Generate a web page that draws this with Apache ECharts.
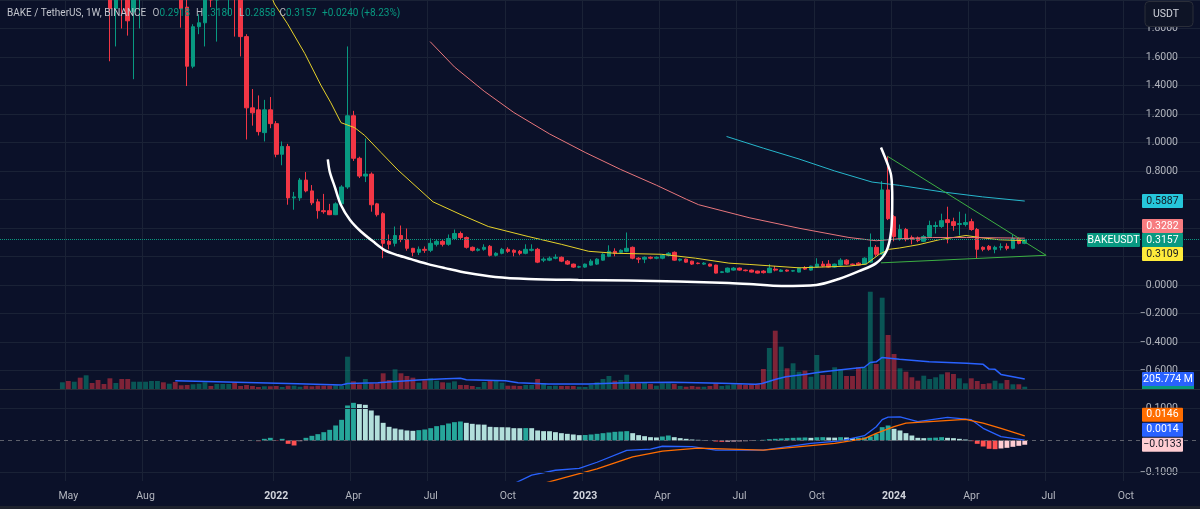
<!DOCTYPE html>
<html>
<head>
<meta charset="utf-8">
<script src="https://cdn.jsdelivr.net/npm/echarts@6/dist/echarts.min.js"></script>
<style>
  html, body { margin: 0; padding: 0; background: #0b1129; }
  #chart { width: 1200px; height: 509px; }
</style>
</head>
<body>
<div id="chart"></div>
<script>
// weekly bars, BAKE / TetherUS, Binance
const weekStart = Date.UTC(2021, 1, 15);
const weekCount = 202;
const weeks = [];
for (let k = 0; k < weekCount; k++) {
  weeks.push(new Date(weekStart + k * 7 * 864e5).toISOString().slice(0, 10));
}

const tickLabels = [
  ['2021-05-03', 'May'], ['2021-08-02', 'Aug'], ['2022-01-03', '2022'], ['2022-04-04', 'Apr'],
  ['2022-07-04', 'Jul'], ['2022-10-03', 'Oct'], ['2023-01-02', '2023'], ['2023-04-03', 'Apr'],
  ['2023-07-03', 'Jul'], ['2023-10-02', 'Oct'], ['2024-01-01', '2024'], ['2024-04-01', 'Apr'],
  ['2024-07-01', 'Jul'], ['2024-09-30', 'Oct']
];

// open, close, low, high  (first bar: week of 2021-04-26)
const firstBar = '2021-04-26';
const ohlc = [
  [3.6, 5.2, 3.4, 6.1], [5.2, 4.6, 4.1, 6.9], [4.6, 5.0, 3.9, 5.6], [5.0, 3.3, 2.3, 5.3],
  [3.3, 3.9, 2.7, 4.3], [3.9, 3.3, 3.0, 4.2], [3.3, 2.7, 2.5, 3.5], [2.7, 2.4, 2.2, 2.9],
  [2.4, 1.94, 1.57, 2.5], [1.94, 2.15, 1.674, 2.3], [2.15, 2.05, 1.80, 2.3], [2.05, 1.854, 1.75, 2.1],
  [1.917, 2.1, 1.444, 2.2], [2.1, 2.3, 1.80, 2.4], [2.3, 2.5, 2.1, 2.7], [2.5, 2.8, 2.3, 3.0],
  [2.8, 3.0, 2.6, 3.3], [3.0, 2.7, 2.5, 3.2], [2.7, 2.9, 2.4, 3.1], [2.9, 2.4, 2.2, 3.0],
  // 2021-09-13
  [2.4, 1.94, 1.806, 2.45], [1.95, 1.535, 1.396, 2.0], [1.535, 1.8125, 1.521, 1.83], [1.8125, 1.84, 1.76, 1.90],
  [1.84, 2.05, 1.674, 2.2], [2.1, 2.0, 1.95, 2.3], [2.0, 2.2, 1.708, 2.4], [2.2, 2.4, 2.0, 2.6],
  [2.3, 2.45, 1.9, 2.6], [2.45, 2.1, 1.743, 2.6], [2.1, 1.743, 1.604, 2.2], [1.743, 1.243, 1.021, 1.76],
  [1.243, 1.208, 1.118, 1.375], [1.229, 1.076, 1.049, 1.33], [1.069, 1.229, 1.007, 1.299], [1.229, 1.132, 1.10, 1.319],
  // 2022-01-03
  [1.132, 0.917, 0.896, 1.15], [0.917, 0.972, 0.840, 1.007], [0.972, 0.611, 0.563, 0.99], [0.611, 0.618, 0.528, 0.653],
  [0.611, 0.736, 0.59, 0.75], [0.736, 0.660, 0.65, 0.792], [0.660, 0.576, 0.56, 0.701], [0.583, 0.521, 0.465, 0.604],
  [0.521, 0.514, 0.50, 0.639], [0.521, 0.493, 0.49, 0.569], [0.493, 0.569, 0.49, 0.58], [0.569, 0.6875, 0.55, 0.70],
  [0.6875, 1.1875, 0.674, 1.674], [1.1875, 0.889, 0.87, 1.222], [0.889, 0.764, 0.75, 0.90], [0.764, 0.778, 0.722, 1.028],
  [0.778, 0.5625, 0.514, 0.79], [0.569, 0.493, 0.48, 0.576], [0.5, 0.292, 0.1875, 0.51], [0.306, 0.285, 0.25, 0.354],
  [0.292, 0.347, 0.27, 0.41], [0.347, 0.319, 0.30, 0.417], [0.319, 0.257, 0.24, 0.396], [0.257, 0.229, 0.201, 0.26],
  [0.229, 0.25, 0.21, 0.27], [0.25, 0.243, 0.225, 0.27],
  // 2022-07-04
  [0.243, 0.292, 0.23, 0.326], [0.285, 0.306, 0.27, 0.319], [0.306, 0.285, 0.27, 0.315], [0.285, 0.326, 0.275, 0.354],
  [0.326, 0.361, 0.315, 0.389], [0.361, 0.333, 0.32, 0.375], [0.333, 0.264, 0.255, 0.34], [0.264, 0.243, 0.235, 0.27],
  [0.243, 0.25, 0.235, 0.26], [0.25, 0.264, 0.24, 0.285], [0.271, 0.208, 0.2, 0.28], [0.208, 0.222, 0.2, 0.23],
  [0.222, 0.25, 0.215, 0.26], [0.25, 0.236, 0.225, 0.264], [0.243, 0.229, 0.201, 0.25], [0.236, 0.222, 0.208, 0.245],
  [0.222, 0.25, 0.215, 0.285], [0.243, 0.25, 0.235, 0.285], [0.25, 0.160, 0.153, 0.26], [0.174, 0.181, 0.160, 0.194],
  [0.174, 0.1875, 0.167, 0.2], [0.1875, 0.194, 0.18, 0.215], [0.194, 0.167, 0.16, 0.2], [0.167, 0.146, 0.14, 0.175],
  [0.146, 0.125, 0.12, 0.15], [0.125, 0.128, 0.118, 0.135],
  // 2023-01-02
  [0.125, 0.146, 0.12, 0.15], [0.139, 0.167, 0.135, 0.181], [0.146, 0.181, 0.14, 0.1875], [0.174, 0.215, 0.17, 0.222],
  [0.201, 0.236, 0.195, 0.278], [0.236, 0.222, 0.201, 0.257], [0.229, 0.243, 0.22, 0.25], [0.236, 0.257, 0.23, 0.368],
  [0.264, 0.1875, 0.18, 0.27], [0.1875, 0.181, 0.153, 0.195], [0.181, 0.194, 0.153, 0.2], [0.194, 0.1875, 0.18, 0.2],
  [0.1875, 0.194, 0.18, 0.2], [0.1875, 0.208, 0.18, 0.215], [0.208, 0.222, 0.2, 0.23], [0.229, 0.174, 0.17, 0.235],
  [0.174, 0.181, 0.165, 0.185], [0.181, 0.16, 0.155, 0.185], [0.167, 0.146, 0.14, 0.17], [0.153, 0.15, 0.145, 0.158],
  [0.146, 0.153, 0.14, 0.16], [0.146, 0.132, 0.128, 0.15], [0.139, 0.083, 0.08, 0.142], [0.088, 0.092, 0.083, 0.097],
  [0.09, 0.118, 0.085, 0.122], [0.104, 0.118, 0.1, 0.125], [0.118, 0.104, 0.1, 0.122], [0.104, 0.10, 0.095, 0.108],
  [0.104, 0.09, 0.087, 0.108], [0.097, 0.083, 0.08, 0.1], [0.097, 0.086, 0.08, 0.104], [0.086, 0.118, 0.083, 0.146],
  [0.111, 0.104, 0.095, 0.132], [0.095, 0.104, 0.09, 0.11], [0.104, 0.097, 0.092, 0.108], [0.097, 0.1, 0.092, 0.105],
  [0.09, 0.118, 0.088, 0.12], [0.118, 0.111, 0.105, 0.132], [0.104, 0.132, 0.1, 0.135], [0.125, 0.146, 0.12, 0.1875],
  [0.146, 0.132, 0.125, 0.167], [0.146, 0.125, 0.12, 0.174], [0.125, 0.146, 0.12, 0.15], [0.139, 0.174, 0.135, 0.1875],
  [0.174, 0.146, 0.14, 0.181], [0.146, 0.142, 0.135, 0.15], [0.153, 0.139, 0.135, 0.16], [0.146, 0.1875, 0.14, 0.194],
  [0.16, 0.264, 0.155, 0.361], [0.264, 0.215, 0.2, 0.28], [0.215, 0.667, 0.21, 0.729], [0.667, 0.465, 0.455, 0.903],
  // 2024-01-01
  [0.479, 0.34, 0.306, 0.49], [0.326, 0.389, 0.31, 0.424], [0.389, 0.319, 0.306, 0.40], [0.333, 0.319, 0.285, 0.347],
  [0.33, 0.312, 0.30, 0.34], [0.306, 0.340, 0.30, 0.35], [0.340, 0.417, 0.33, 0.451], [0.41, 0.417, 0.361, 0.444],
  [0.41, 0.451, 0.40, 0.5], [0.458, 0.4375, 0.292, 0.549], [0.444, 0.417, 0.38, 0.472], [0.424, 0.431, 0.347, 0.514],
  [0.424, 0.4375, 0.41, 0.5], [0.444, 0.389, 0.38, 0.465], [0.389, 0.25, 0.1875, 0.40], [0.264, 0.25, 0.236, 0.271],
  [0.271, 0.25, 0.24, 0.28], [0.25, 0.264, 0.222, 0.275], [0.264, 0.268, 0.243, 0.292], [0.271, 0.257, 0.243, 0.292],
  [0.257, 0.326, 0.25, 0.354], [0.326, 0.2917, 0.285, 0.333], [0.2918, 0.3157, 0.2858, 0.3180]
];

// weekly volume, millions of BAKE (same weeks as ohlc)
const volumeM = [
  138, 165, 150, 233, 282, 123, 185, 103, 220, 123,
  206, 206, 150, 150, 150, 165, 165, 138, 109, 144,
  76, 82, 97, 109, 138, 62, 103, 103, 103, 130,
  62, 82, 62, 41, 56, 56, 62, 41, 68, 68,
  47, 68, 56, 68, 68, 68, 76, 62, 665, 158,
  97, 206, 117, 117, 323, 185, 405, 323, 268, 233,
  130, 179, 220, 171, 138, 130, 158, 82, 82, 62,
  41, 144, 171, 171, 130, 68, 68, 62, 82, 82,
  206, 117, 62, 68, 62, 62, 62, 47, 41, 82,
  138, 206, 268, 171, 185, 294, 117, 117, 138, 103,
  68, 117, 117, 103, 62, 47, 62, 47, 47, 62,
  117, 62, 76, 97, 97, 82, 97, 97, 412, 844,
  1200, 871, 426, 529, 356, 377, 253, 700, 288, 288,
  447, 405, 268, 268, 447, 447, 2002, 515, 1879, 1111,
  720, 426, 356, 241, 171, 274, 206, 241, 303, 344,
  309, 220, 117, 220, 165, 103, 117, 171, 117, 185,
  97, 97, 47
];

// MACD histogram (12, 26, 9), first value: week of 2021-12-06
const histStart = '2021-12-06';
const macdHist = [
  0.0006, -0.0021, 0.0052, 0.0083, -0.001, 0.0052, -0.0104, -0.0156, -0.0021, 0.0083,
  0.0146, 0.0198, 0.026, 0.0333, 0.0469, 0.0646, 0.1094, 0.1177, 0.1135, 0.1115,
  0.0938, 0.0781, 0.0552, 0.0427, 0.0375, 0.0344, 0.0313, 0.0302, 0.0323, 0.0344,
  0.0385, 0.0448, 0.0479, 0.0531, 0.0573, 0.0594, 0.0552, 0.0521, 0.05, 0.0495,
  0.0427, 0.0417, 0.0415, 0.0411, 0.0385, 0.0383, 0.0388, 0.0385, 0.0313, 0.0292,
  0.029, 0.026, 0.0229, 0.0208, 0.0188, 0.0167, 0.0172, 0.0188, 0.0208, 0.0229,
  0.025, 0.0271, 0.0281, 0.0292, 0.0229, 0.0167, 0.0135, 0.0104, 0.0094, 0.0125,
  0.0156, 0.0104, 0.0073, 0.0052, 0.0031, 0.0021, 0.001, 0.0003, -0.0031, -0.0042,
  -0.0036, -0.0031, -0.0026, -0.0021, -0.001, 0.0005, 0.0021, 0.0042, 0.0052, 0.0063,
  0.0073, 0.0083, 0.0089, 0.0094, 0.0083, 0.0099, 0.0104, 0.0094, 0.0089, 0.0104,
  0.0094, 0.0073, 0.0083, 0.0094, 0.0125, 0.0208, 0.0417, 0.0469, 0.0365, 0.0313,
  0.0229, 0.0156, 0.0083, 0.0073, 0.0083, 0.0089, 0.0104, 0.0083, 0.0073, 0.0052,
  0.0031, -0.0021, -0.0104, -0.0188, -0.026, -0.0271, -0.025, -0.0229, -0.0198, -0.0167,
  -0.0133
];

// line readings: [week number from 2021-02-15, value]
const maYellow = [[44, 2.15], [45.7, 1.972], [47.9, 1.833], [50.8, 1.625], [53.5, 1.403], [55.2, 1.278],
  [56.9, 1.139], [59.2, 1.104], [60.9, 1.049], [63.6, 0.931], [66.5, 0.806], [72.4, 0.583], [77.1, 0.493],
  [81.7, 0.41], [88.4, 0.34], [94, 0.285], [98.6, 0.236], [103.1, 0.222], [110.9, 0.215], [116.6, 0.1875],
  [122.2, 0.153], [125.6, 0.144], [134, 0.12], [142.4, 0.132], [145.3, 0.146], [147.5, 0.215], [149.2, 0.25],
  [150.9, 0.259], [154.2, 0.283], [157.6, 0.317], [162.1, 0.347], [164.4, 0.333], [167.7, 0.317], [172, 0.3109]];
const maPink = [[71.9, 1.708], [76, 1.53], [81, 1.36], [86, 1.21], [92, 1.06], [98, 0.93], [104, 0.81],
  [110, 0.70], [115.1, 0.60], [117.1, 0.563], [125.6, 0.472], [134, 0.398], [142.4, 0.333], [147, 0.31],
  [150.9, 0.324], [156.5, 0.333], [162.2, 0.333], [172, 0.3282]];
const maCyan = [[121.8, 1.042], [128, 0.96], [134, 0.884], [140, 0.80], [146.3, 0.722], [150.9, 0.699],
  [158.1, 0.653], [164.9, 0.618], [172, 0.5887]];
const volumeMA = [[29, 171], [49.6, 109], [57, 82], [58, 112], [63.1, 130], [69.9, 185], [74.6, 212],
  [77, 220], [78, 190], [84.6, 171], [86.7, 130], [91.8, 103], [98.6, 103], [104.8, 130], [112.6, 138],
  [121, 117], [126.7, 97], [127.8, 113], [130.1, 200], [131.8, 253], [135.2, 303], [137.4, 344], [140.7, 391],
  [145, 447], [146, 545], [147, 560], [148, 650], [150.9, 611], [155.9, 562], [162.2, 529], [165, 508],
  [166, 410], [167, 405], [168, 300], [172, 205.774]];
const macdLine = [[84, -0.16], [86, -0.135], [89, -0.108], [93, -0.093], [97, -0.087], [100, -0.068],
  [105, -0.031], [109, -0.027], [111, -0.018], [116, -0.019], [120, -0.030], [128, -0.030], [136, -0.009],
  [141, -0.001], [145, 0.015], [147, 0.043], [148, 0.065], [149, 0.073], [151, 0.074], [154, 0.059],
  [159, 0.072], [163, 0.065], [165, 0.038], [168, 0.012], [172, 0.0014]];
const signalLine = [[89, -0.15], [90, -0.139], [95, -0.114], [100, -0.089], [106, -0.051], [111, -0.033],
  [117, -0.024], [128, -0.030], [140, -0.009], [145, 0.006], [147, 0.022], [150, 0.043], [152, 0.054],
  [156, 0.059], [162, 0.066], [165, 0.054], [168, 0.038], [172, 0.0146]];

// hand drawings on the chart
const cupCurve = [[54.68, 0.882], [55.02, 0.792], [55.86, 0.6875], [56.87, 0.5625], [58.39, 0.458],
  [60.25, 0.375], [62.27, 0.306], [64.3, 0.243], [66.49, 0.208], [68.69, 0.181], [71.55, 0.146],
  [74.42, 0.118], [78.31, 0.083], [82.86, 0.056], [88.43, 0.042], [96.87, 0.035], [105.3, 0.031],
  [113.7, 0.024], [122.2, 0.014], [125.6, 0.007], [131.1, -0.007], [136.9, 0.0], [140.7, 0.042],
  [144.1, 0.097], [147.0, 0.153], [148.7, 0.236], [149.5, 0.375], [149.7, 0.604], [149.5, 0.771],
  [148.8, 0.861], [147.8, 0.965]];
const triangleTop = [[148.9, 0.903], [175.6, 0.208]];
const triangleBottom = [[147.8, 0.155], [175.6, 0.208]];

const UP = '#089981', DOWN = '#f23645';
const BG = '#0b1129', GRIDC = '#1a2236', TXT = '#b2b5be';
const FONT = 'Roboto, "Noto Sans", sans-serif';

const tickMap = Object.fromEntries(tickLabels);
const barStart = weeks.indexOf(firstBar);
const histOffset = weeks.indexOf(histStart);

const candleData = weeks.map((d, k) => {
  const j = k - barStart;
  return (j >= 0 && j < ohlc.length) ? ohlc[j] : ['-', '-', '-', '-'];
});
const volData = weeks.map((d, k) => {
  const j = k - barStart;
  if (j < 0 || j >= volumeM.length) return '-';
  const up = ohlc[j][1] >= ohlc[j][0];
  return { value: volumeM[j], itemStyle: { color: up ? 'rgba(8,153,129,0.5)' : 'rgba(242,54,69,0.5)' } };
});
const histData = weeks.map((d, k) => {
  const j = k - histOffset;
  if (j < 0 || j >= macdHist.length) return '-';
  const v = macdHist[j], prev = j > 0 ? macdHist[j - 1] : 0;
  let c;
  if (v >= 0) c = v > prev ? '#26a69a' : '#b2dfdb';
  else c = v < prev ? '#ff5252' : '#ffcdd2';
  return { value: v, itemStyle: { color: c } };
});

const showTick = (idx, val) => tickMap[val] !== undefined;
const fmtNum = v => v.toFixed(4).replace('-', '\u2212');

function catAxis(grid, labels) {
  return {
    type: 'category', gridIndex: grid, data: weeks, boundaryGap: true,
    axisLine: { show: grid === 1, lineStyle: { color: '#2a2e39' } },
    axisTick: { show: false },
    axisLabel: {
      show: labels, interval: showTick, color: TXT, fontSize: 10.5, fontFamily: FONT, margin: 10,
      formatter: v => /^\d{4}$/.test(tickMap[v]) ? '{b|' + tickMap[v] + '}' : tickMap[v],
      rich: { b: { fontWeight: 'bold', color: '#d1d4dc', fontSize: 10.5, fontFamily: FONT } }
    },
    splitLine: { show: true, interval: showTick, lineStyle: { color: GRIDC, width: 1 } }
  };
}
function valAxis(grid) {
  return { type: 'value', gridIndex: grid, min: -0.5, max: weekCount - 0.5, show: false };
}
function line(data, color, width, xi, yi, extra) {
  return Object.assign({
    type: 'line', data, xAxisIndex: xi, yAxisIndex: yi, symbol: 'none', silent: true,
    lineStyle: { color, width }, z: 3
  }, extra || {});
}

const chart = echarts.init(document.getElementById('chart'), null, { renderer: 'canvas' });

const lastClose = ohlc[ohlc.length - 1][1];

chart.setOption({
  backgroundColor: BG,
  animation: false,
  grid: [
    { left: 0, right: 0, top: -4, height: 374.4 },
    { left: 0, right: 0, top: 289, height: 100 },
    { left: 0, right: 0, top: 390, height: 91 }
  ],
  xAxis: [catAxis(0, false), catAxis(1, false), catAxis(2, true), valAxis(0), valAxis(1), valAxis(2)],
  yAxis: [
    {
      type: 'value', gridIndex: 0, position: 'right', min: -0.6, max: 2.0, interval: 0.2,
      axisLine: { show: false }, axisTick: { show: false },
      axisLabel: { inside: true, margin: 22, color: TXT, fontSize: 10.5, fontFamily: FONT,
        formatter: v => v > 1.95 ? '' : fmtNum(v) },
      splitLine: { lineStyle: { color: GRIDC } }
    },
    { type: 'value', gridIndex: 1, min: 0, max: 2058, show: false },
    {
      type: 'value', gridIndex: 2, position: 'right', min: -0.1266, max: 0.1578,
      axisLine: { show: false }, axisTick: { show: false },
      axisLabel: { inside: true, margin: 22, color: TXT, fontSize: 10.5, fontFamily: FONT,
        customValues: [-0.1, 0.1], formatter: v => fmtNum(v) },
      splitLine: { show: false }
    }
  ],
  series: [
    {
      type: 'candlestick', xAxisIndex: 0, yAxisIndex: 0, data: candleData, barWidth: '68%',
      itemStyle: { color: UP, color0: DOWN, borderColor: UP, borderColor0: DOWN, borderWidth: 1 },
      markLine: {
        silent: true, symbol: 'none', label: { show: false },
        lineStyle: { color: UP, type: 'dotted', width: 1 },
        data: [{ yAxis: lastClose }]
      },
      z: 2
    },
    line(maYellow, '#e6d22a', 1, 3, 0),
    line(maPink, '#e8767c', 1, 3, 0),
    line(maCyan, '#26b7cc', 1, 3, 0),
    line(cupCurve, '#ffffff', 2.5, 3, 0, { smooth: 0.3, z: 5 }),
    line(triangleTop, '#3cb043', 1, 3, 0, { z: 5 }),
    line(triangleBottom, '#3cb043', 1, 3, 0, { z: 5 }),
    { type: 'bar', xAxisIndex: 1, yAxisIndex: 1, data: volData, barWidth: '82%', silent: true },
    line(volumeMA, '#2962ff', 1.5, 4, 1),
    {
      type: 'bar', xAxisIndex: 2, yAxisIndex: 2, data: histData, barWidth: '82%', silent: true,
      markLine: {
        silent: true, symbol: 'none', label: { show: false },
        data: [
          { yAxis: 0.1, lineStyle: { color: GRIDC, type: 'solid', width: 1 } },
          { yAxis: -0.1, lineStyle: { color: GRIDC, type: 'solid', width: 1 } },
          { yAxis: 0, lineStyle: { color: '#5d606b', type: [4, 4], width: 1 } }
        ]
      }
    },
    line(macdLine, '#2962ff', 1.3, 5, 2),
    line(signalLine, '#ff6d00', 1.3, 5, 2)
  ]
});

// price scale tags and header
const yPx = (axis, v) => chart.convertToPixel({ yAxisIndex: axis }, v);
function tag(x, yc, w, text, bg, fg) {
  return [
    { type: 'rect', z: 100, shape: { x: x, y: yc - 7, width: w, height: 14, r: 1 }, style: { fill: bg } },
    { type: 'text', z: 101, x: x + w / 2, y: yc,
      style: { text: text, fill: fg, font: '10.5px ' + FONT, align: 'center', verticalAlign: 'middle' } }
  ];
}
function txt(x, text, fill) {
  return { type: 'text', z: 101, x: x, y: 13,
    style: { text: text, fill: fill, font: '10px ' + FONT, verticalAlign: 'middle' } };
}

const lastYellow = maYellow[maYellow.length - 1][1];
const lastPink = maPink[maPink.length - 1][1];
const lastCyan = maCyan[maCyan.length - 1][1];
const lastVolMA = volumeMA[volumeMA.length - 1][1];
const lastVol = volumeM[volumeM.length - 1];
const lastHist = macdHist[macdHist.length - 1];
const lastMacd = macdLine[macdLine.length - 1][1];
const lastSignal = signalLine[signalLine.length - 1][1];

const yClose = yPx(0, lastClose);
const yVol = yPx(1, lastVol);
const yHist = yPx(2, lastHist);
const o = ohlc[ohlc.length - 1];
const change = lastClose - ohlc[ohlc.length - 2][1];

chart.setOption({
  graphic: [].concat(
    [{ type: 'rect', z: 100, shape: { x: 0, y: 506, width: 1200, height: 3 }, style: { fill: '#1e222d' } }],
    tag(1142, yPx(0, lastCyan), 41, fmtNum(lastCyan), '#26c6da', '#131722'),
    tag(1142, yClose - 14, 41, fmtNum(lastPink), '#f77c80', '#ffffff'),
    tag(1087, yClose, 53, 'BAKEUSDT', UP, '#ffffff'),
    tag(1142, yClose, 41, fmtNum(lastClose), UP, '#ffffff'),
    tag(1142, yClose + 14, 41, fmtNum(lastYellow), '#ffeb3b', '#131722'),
    [{ type: 'rect', z: 99, shape: { x: 1142, y: yVol - 6, width: 52, height: 389 - (yVol - 6) }, style: { fill: UP } }],
    tag(1142, yPx(1, lastVolMA), 52, lastVolMA.toFixed(3) + ' M', '#2962ff', '#ffffff'),
    tag(1142, yHist - 30, 41, fmtNum(lastSignal), '#ff6d00', '#ffffff'),
    tag(1142, yHist - 15, 41, fmtNum(lastMacd), '#2962ff', '#ffffff'),
    tag(1142, yHist, 41, fmtNum(lastHist), '#ffcdd2', '#131722'),
    [
      { type: 'rect', z: 100, shape: { x: 1145, y: 1.5, width: 48, height: 25, r: 4 },
        style: { fill: '#0e1426', stroke: '#2a2e39', lineWidth: 1 } },
      { type: 'text', z: 101, x: 1153, y: 14,
        style: { text: 'USDT', fill: '#d1d4dc', font: '10.5px ' + FONT, verticalAlign: 'middle' } },
      txt(7, 'BAKE / TetherUS, 1W, BINANCE', '#c3c6ce'),
      txt(152.5, 'O', TXT), txt(159.5, o[0].toFixed(4), UP),
      txt(196, 'H', TXT), txt(202, o[3].toFixed(4), UP),
      txt(239, 'L', TXT), txt(245, o[2].toFixed(4), UP),
      txt(279.5, 'C', TXT), txt(286, o[1].toFixed(4), UP),
      txt(322, '+' + change.toFixed(4) + ' (+' + (change / ohlc[ohlc.length - 2][1] * 100).toFixed(2) + '%)', UP)
    ]
  )
});
</script>
</body>
</html>
